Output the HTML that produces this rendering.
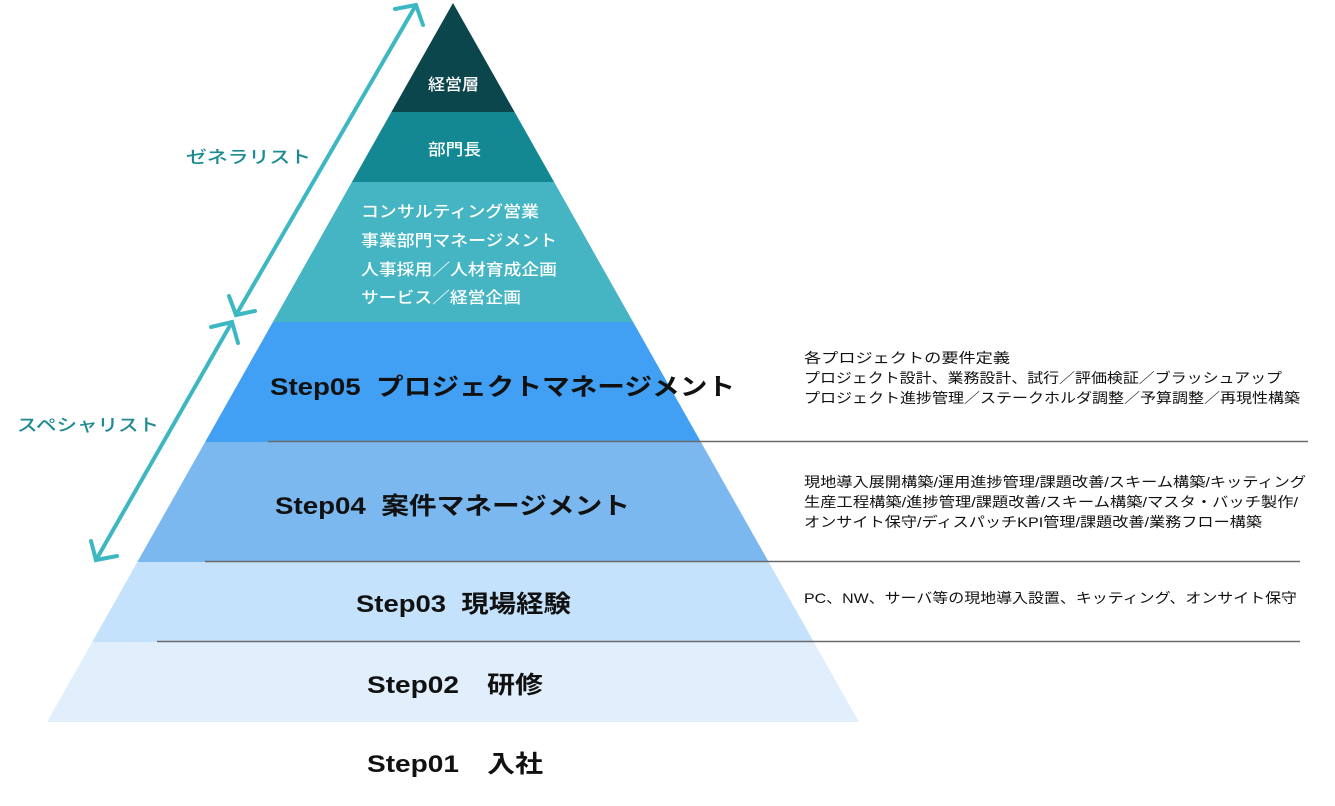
<!DOCTYPE html>
<html><head><meta charset="utf-8"><style>
html,body{margin:0;padding:0;background:#fff;}
svg{display:block;font-family:"Liberation Sans","Noto Sans CJK JP",sans-serif;}
text{white-space:pre;}
</style></head><body>
<svg width="1335" height="806" viewBox="0 0 1335 806" xmlns="http://www.w3.org/2000/svg">
<polygon points="453,3 514.6,112 391.4,112" fill="#0c464d"/>
<polygon points="391.4,112 514.6,112 554.1,182 351.9,182" fill="#138893"/>
<polygon points="351.9,182 554.1,182 633.1,322 272.9,322" fill="#45b4c3"/>
<polygon points="272.9,322 633.1,322 700.9,442 205.1,442" fill="#41a0f3"/>
<polygon points="205.1,442 700.9,442 768.7,562 137.3,562" fill="#7ab8ef"/>
<polygon points="137.3,562 768.7,562 813.8,642 92.2,642" fill="#c4e2fb"/>
<polygon points="92.2,642 813.8,642 859,722 47,722" fill="#e1effc"/>
<g stroke="#6b6b6b" stroke-width="1.5">
<line x1="268" y1="441.5" x2="1308" y2="441.5"/>
<line x1="205" y1="561.5" x2="1300" y2="561.5"/>
<line x1="157" y1="641.5" x2="1300" y2="641.5"/>
</g>
<g stroke="#3db8c2" stroke-width="4" fill="none" stroke-linecap="round">
<line x1="236" y1="315" x2="416" y2="5"/>
<polyline points="395,9 416,5 423,25"/>
<polyline points="229,296 236,315 255,311"/>
<line x1="96" y1="560" x2="232" y2="322"/>
<polyline points="211,327 232,322 238,343"/>
<polyline points="91,541 96,560 117,556"/>
</g>
<g fill="#1b8a93" font-size="17" font-weight="500">
<text x="186" y="163" textLength="125" lengthAdjust="spacingAndGlyphs">ゼネラリスト</text>
<text x="17" y="431" textLength="142" lengthAdjust="spacingAndGlyphs">スペシャリスト</text>
</g>
<g fill="#fff" font-size="16" font-weight="500">
<text x="428" y="90" textLength="51" lengthAdjust="spacingAndGlyphs">経営層</text>
<text x="428" y="155" textLength="53" lengthAdjust="spacingAndGlyphs">部門長</text>
<text x="361" y="217" textLength="178" lengthAdjust="spacingAndGlyphs">コンサルティング営業</text>
<text x="361" y="246" textLength="196" lengthAdjust="spacingAndGlyphs">事業部門マネージメント</text>
<text x="361" y="275" textLength="196" lengthAdjust="spacingAndGlyphs">人事採用／人材育成企画</text>
<text x="361" y="303" textLength="160" lengthAdjust="spacingAndGlyphs">サービス／経営企画</text>
</g>
<g fill="#111" font-size="24" font-weight="bold">
<text x="270" y="395" textLength="465" lengthAdjust="spacingAndGlyphs">Step05  プロジェクトマネージメント</text>
<text x="275" y="514" textLength="355" lengthAdjust="spacingAndGlyphs">Step04  案件マネージメント</text>
<text x="356" y="612" textLength="215" lengthAdjust="spacingAndGlyphs">Step03  現場経験</text>
<text x="367" y="693" textLength="176" lengthAdjust="spacingAndGlyphs">Step02　研修</text>
<text x="367" y="772" textLength="176" lengthAdjust="spacingAndGlyphs">Step01　入社</text>
</g>
<g fill="#111" font-size="14">
<text x="804" y="363" textLength="206" lengthAdjust="spacingAndGlyphs">各プロジェクトの要件定義</text>
<text x="804" y="383" textLength="478" lengthAdjust="spacingAndGlyphs">プロジェクト設計、業務設計、試行／評価検証／ブラッシュアップ</text>
<text x="804" y="403" textLength="496" lengthAdjust="spacingAndGlyphs">プロジェクト進捗管理／ステークホルダ調整／予算調整／再現性構築</text>
<text x="804" y="487" textLength="502" lengthAdjust="spacingAndGlyphs">現地導入展開構築/運用進捗管理/課題改善/スキーム構築/キッティング</text>
<text x="804" y="507" textLength="494" lengthAdjust="spacingAndGlyphs">生産工程構築/進捗管理/課題改善/スキーム構築/マスタ・バッチ製作/</text>
<text x="804" y="527" textLength="458" lengthAdjust="spacingAndGlyphs">オンサイト保守/ディスパッチKPI管理/課題改善/業務フロー構築</text>
<text x="804" y="603" textLength="493" lengthAdjust="spacingAndGlyphs">PC、NW、サーバ等の現地導入設置、キッティング、オンサイト保守</text>
</g>
</svg>
</body></html>
